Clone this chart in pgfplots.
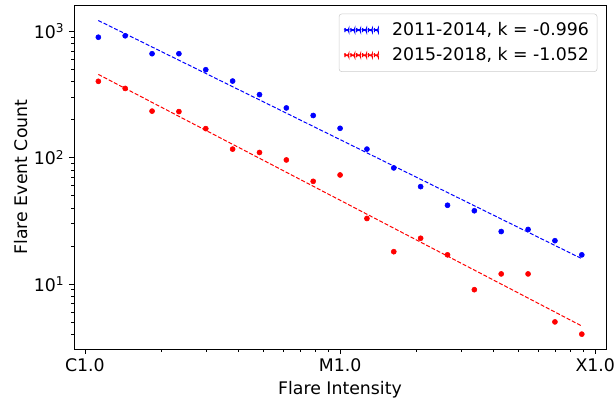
\documentclass[border=0pt]{standalone}
\usepackage{fontspec}
\setmainfont{DejaVu Sans}
\usepackage{pgfplots}
\pgfplotsset{compat=1.18}
\definecolor{mplblue}{RGB}{0,0,255}
\definecolor{mplred}{RGB}{255,0,0}
\definecolor{legframe}{RGB}{204,204,204}
\newcommand{\legline}[1]{%
  \foreach \s in {0,4.4,8.8,13.2,17.6,22.0}{%
    \fill[#1] (\s pt,-0.4pt) rectangle ({\s pt+3pt},0.4pt);}}
\begin{document}
\begin{tikzpicture}
\begin{axis}[
  name=ax,
  scale only axis, width=399pt, height=258pt,
  xmode=log, ymode=log,
  xmin=9.06e-7, xmax=1.102e-4, ymin=3.05, ymax=1622,
  xtick={1e-6,1e-5,1e-4}, xticklabels={C1.0,M1.0,X1.0},
  minor xtick={2e-6,3e-6,4e-6,5e-6,6e-6,7e-6,8e-6,9e-6,2e-5,3e-5,4e-5,5e-5,6e-5,7e-5,8e-5,9e-5},
  ytick={10,100,1000}, yticklabels={10\textsuperscript{1},10\textsuperscript{2},10\textsuperscript{3}},
  minor ytick={4,5,6,7,8,9,20,30,40,50,60,70,80,90,200,300,400,500,600,700,800,900},
  tick align=outside, tick pos=left,
  major tick length=3.75pt, minor tick length=2.2pt,
  every tick/.style={black, line width=0.6pt},
  axis line style={line width=0.6pt},
  ticklabel style={font=\fontsize{13}{15}\selectfont},
  label style={font=\fontsize{13}{15}\selectfont},
  xlabel={Flare Intensity}, ylabel={Flare Event Count},
  ylabel style={yshift=-2.5pt},
  legend cell align=left,
  legend style={at={(1,1)}, anchor=north east, xshift=-6.5pt, yshift=-6.5pt,
    draw=legframe, rounded corners=2pt, fill=white,
    font=\fontsize{13}{15}\selectfont, row sep=3.5pt, inner xsep=4pt, inner ysep=4.5pt,
    /tikz/every odd column/.append style={column sep=8pt}},
]
\addplot[only marks, mark=*, mark size=1.9pt, color=mplblue, forget plot] coordinates {
(1.1288e-6,901) (1.4384e-6,925) (1.8330e-6,667) (2.3357e-6,667) (2.9764e-6,498)
(3.7927e-6,405) (4.8329e-6,316) (6.1585e-6,248) (7.8476e-6,216) (1.0000e-5,171)
(1.2743e-5,117) (1.6238e-5,83) (2.0691e-5,59) (2.6367e-5,42) (3.3598e-5,38)
(4.2813e-5,26) (5.4556e-5,27) (6.9519e-5,22) (8.8587e-5,17)};
\addplot[only marks, mark=*, mark size=1.9pt, color=mplred, forget plot] coordinates {
(1.1288e-6,403) (1.4384e-6,354) (1.8330e-6,234) (2.3357e-6,232) (2.9764e-6,170)
(3.7927e-6,117) (4.8329e-6,110) (6.1585e-6,96) (7.8476e-6,65) (1.0000e-5,73)
(1.2743e-5,33) (1.6238e-5,18) (2.0691e-5,23) (2.6367e-5,17) (3.3598e-5,9)
(4.2813e-5,12) (5.4556e-5,12) (6.9519e-5,5) (8.8587e-5,4)};
\addplot[color=mplblue, line width=0.75pt, dash pattern=on 3pt off 1.4pt,
  legend image code/.code={\legline{mplblue}}]
  coordinates {(1.1288e-6,1222) (8.8587e-5,15.85)};
\addlegendentry{2011-2014, k = -0.996}
\addplot[color=mplred, line width=0.75pt, dash pattern=on 3pt off 1.4pt,
  legend image code/.code={\legline{mplred}}]
  coordinates {(1.1288e-6,457) (8.8587e-5,4.64)};
\addlegendentry{2015-2018, k = -1.052}
\end{axis}
\pgfresetboundingbox
\path ([shift={(-55.5pt,-38.25pt)}]ax.south west) rectangle ([shift={(7.5pt,3.75pt)}]ax.north east);
\end{tikzpicture}
\end{document}
